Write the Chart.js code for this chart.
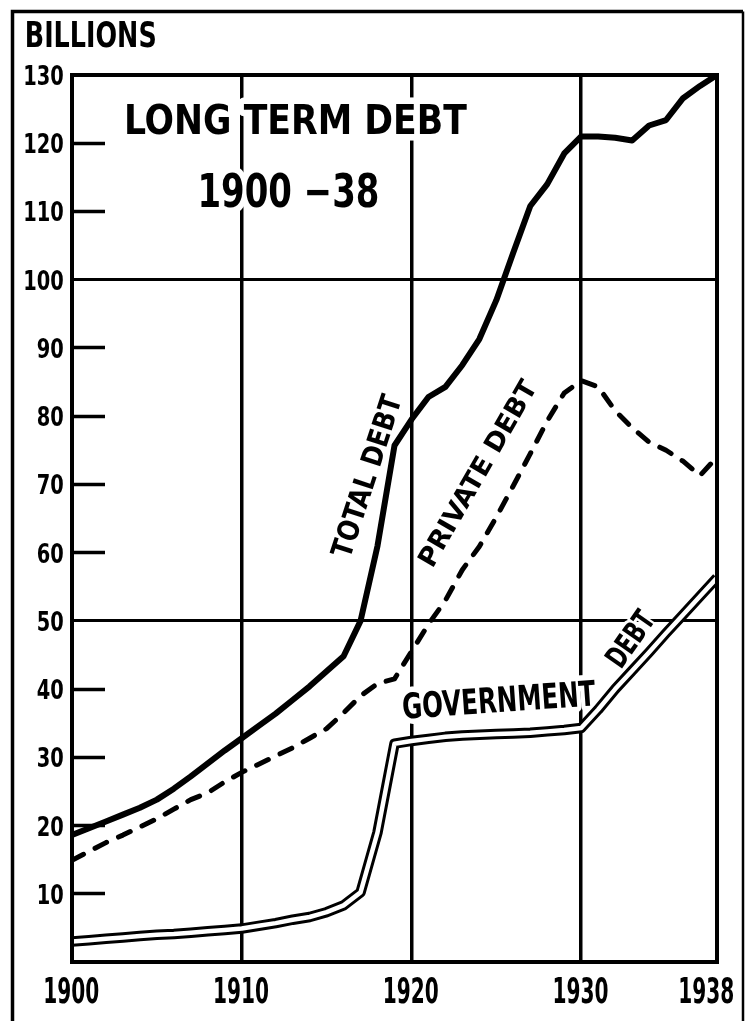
<!DOCTYPE html>
<html>
<head>
<meta charset="utf-8">
<title>Long Term Debt 1900-38</title>
<script src="https://cdn.jsdelivr.net/npm/chart.js@4.4.1/dist/chart.umd.min.js"></script>
<style>
  html, body { margin: 0; padding: 0; background: #fff; }
  #wrap { position: relative; width: 746px; height: 1021px; }
  canvas { display: block; }
</style>
</head>
<body>
<div id="wrap"><canvas id="debtChart" width="746" height="1021"></canvas></div>
<script>
/* --- Dati (miliardi di dollari) --- */
const years = [1900, 1901, 1902, 1903, 1904, 1905, 1906, 1907, 1908, 1909,
               1910, 1911, 1912, 1913, 1914, 1915, 1916, 1917, 1918, 1919,
               1920, 1921, 1922, 1923, 1924, 1925, 1926, 1927, 1928, 1929,
               1930, 1931, 1932, 1933, 1934, 1935, 1936, 1937, 1938];

const totalDebt = [18.6, 19.6, 20.6, 21.6, 22.6, 23.8, 25.4, 27.2, 29.1, 31.0,
                   32.8, 34.6, 36.4, 38.4, 40.4, 42.6, 44.8, 50.0, 61.0, 75.7,
                   79.5, 82.8, 84.3, 87.5, 91.3, 97.0, 104.0, 110.8, 114.0, 118.5,
                   121.0, 121.0, 120.8, 120.4, 122.6, 123.4, 126.6, 128.4, 130.0];

const privateDebt = [14.9, 16.2, 17.5, 18.6, 19.8, 21.0, 22.4, 23.8, 24.8, 26.4,
                     27.8, 29.0, 30.2, 31.4, 32.8, 34.2, 36.5, 39.0, 40.8, 41.5,
                     45.5, 49.5, 53.0, 57.5, 60.9, 65.2, 69.8, 74.5, 79.3, 83.4,
                     85.2, 84.3, 80.8, 78.3, 76.2, 75.0, 73.4, 71.3, 74.0];

const governmentDebt = [3.0, 3.2, 3.4, 3.6, 3.8, 4.0, 4.1, 4.3, 4.5, 4.7,
                        4.9, 5.3, 5.7, 6.2, 6.6, 7.3, 8.3, 10.2, 19.0, 32.0,
                        32.4, 32.7, 33.0, 33.2, 33.3, 33.4, 33.5, 33.6, 33.8, 34.0,
                        34.3, 37.0, 40.0, 42.7, 45.4, 48.2, 50.9, 53.6, 56.3];

const xTickYears = [1900, 1910, 1920, 1930, 1938];
const xGridYears = [1910, 1920, 1930];
const yGridValues = [50, 100];
const yNoStub = [0, 50, 100, 130];

/* --- Scritte a mano --- */
const LETTER_FONT = "'DejaVu Sans Condensed', 'DejaVu Sans', sans-serif";

const handLabels = [
    { text: 'BILLIONS',       cx: 91,  cy: 34.5, w: 128, h: 27, rot: 0,   halo: 0 },
    { text: 'LONG TERM DEBT', cx: 297, cy: 119,  w: 341, h: 32, rot: 0,   halo: 14 },
    { text: '1900 \u221238',  cx: 289, cy: 190,  w: 177, h: 35, rot: 0,   halo: 14 },
    { text: 'TOTAL DEBT',     cx: 366, cy: 476,  w: 169, h: 21, rot: -72, halo: 6 },
    { text: 'PRIVATE DEBT',   cx: 477, cy: 472,  w: 208, h: 20, rot: -60, halo: 6 },
    { text: 'GOVERNMENT',     cx: 499, cy: 699,  w: 193, h: 28, rot: -4,  halo: 12 },
    { text: 'DEBT',           cx: 630, cy: 638,  w: 60,  h: 22, rot: -55, halo: 6 }
];

function drawFitted(ctx, lbl) {
    ctx.save();
    ctx.translate(lbl.cx, lbl.cy);
    ctx.rotate(lbl.rot * Math.PI / 180);
    ctx.font = `bold ${lbl.h / 0.72}px ${LETTER_FONT}`;
    ctx.textAlign = 'center';
    ctx.textBaseline = 'alphabetic';
    const m = ctx.measureText(lbl.text);
    const w = m.actualBoundingBoxLeft + m.actualBoundingBoxRight;
    const hh = m.actualBoundingBoxAscent + m.actualBoundingBoxDescent;
    ctx.scale(lbl.w / w, lbl.h / hh);
    const x = (m.actualBoundingBoxLeft - m.actualBoundingBoxRight) / 2;
    const y = (m.actualBoundingBoxAscent - m.actualBoundingBoxDescent) / 2;
    if (lbl.halo) {
        ctx.lineWidth = lbl.halo;
        ctx.lineJoin = 'round';
        ctx.strokeStyle = '#fff';
        ctx.strokeText(lbl.text, x, y);
    }
    ctx.fillStyle = '#000';
    ctx.fillText(lbl.text, x, y);
    ctx.restore();
}

/* etichetta di tacca stretta: ancorata a (x, cy), allineata a destra o centrata */
function drawTickLabel(ctx, text, x, cy, size, sx, align, maxRight) {
    ctx.save();
    ctx.font = `bold ${size}px ${LETTER_FONT}`;
    ctx.textAlign = 'left';
    ctx.textBaseline = 'alphabetic';
    const m = ctx.measureText(text);
    const w = (m.actualBoundingBoxLeft + m.actualBoundingBoxRight) * sx;
    let left = align === 'right' ? x - w : x - w / 2;
    if (maxRight !== undefined && left + w > maxRight) left = maxRight - w;
    const y = cy + (m.actualBoundingBoxAscent - m.actualBoundingBoxDescent) / 2;
    ctx.translate(left, y);
    ctx.scale(sx, 1);
    ctx.fillStyle = '#000';
    ctx.fillText(text, m.actualBoundingBoxLeft, 0);
    ctx.restore();
}

/* cornice esterna + riquadro del grafico + scritte */
const framePlugin = {
    id: 'frame',
    beforeDraw(chart) {
        const ctx = chart.ctx;
        ctx.save();
        ctx.fillStyle = '#fff';
        ctx.fillRect(0, 0, chart.width, chart.height);
        ctx.strokeStyle = '#000';
        ctx.lineWidth = 3.5;
        ctx.beginPath();
        ctx.moveTo(12.5, chart.height);
        ctx.lineTo(12.5, 11.5);
        ctx.lineTo(743, 11.5);
        ctx.stroke();
        ctx.lineWidth = 2.5;
        ctx.beginPath();
        ctx.moveTo(743, 11.5);
        ctx.lineTo(743, chart.height);
        ctx.stroke();
        ctx.restore();
    },
    beforeDatasetsDraw(chart) {
        const ctx = chart.ctx;
        handLabels.forEach(lbl => drawFitted(ctx, lbl));

        const xs = chart.scales.x;
        const ys = chart.scales.y;
        ys.ticks.forEach(t => {
            if (t.value === 0) return;
            drawTickLabel(ctx, String(t.value), ys.right - 9, ys.getPixelForValue(t.value), 27, 0.8, 'right');
        });
        xs.ticks.forEach(t => {
            drawTickLabel(ctx, String(t.value), xs.getPixelForValue(t.value), xs.top + 28, 35, 0.64, 'center', 733);
        });
    },
    afterDatasetsDraw(chart) {
        const { ctx, chartArea: a } = chart;
        ctx.save();
        ctx.strokeStyle = '#000';
        ctx.lineWidth = 4;
        ctx.lineJoin = 'miter';
        ctx.strokeRect(a.left, a.top, a.right - a.left, a.bottom - a.top);
        ctx.restore();
    }
};

const toPoints = values => years.map((yr, i) => ({ x: yr, y: values[i] }));

const ctx = document.getElementById('debtChart').getContext('2d');
new Chart(ctx, {
    type: 'line',
    data: {
        datasets: [
            {
                label: 'Total Debt',
                data: toPoints(totalDebt),
                borderColor: '#000',
                borderWidth: 6,
                borderCapStyle: 'round',
                borderJoinStyle: 'round',
                pointRadius: 0,
                tension: 0,
                order: 0
            },
            {
                label: 'Private Debt',
                data: toPoints(privateDebt),
                borderColor: '#000',
                borderWidth: 5,
                borderDash: [13, 13],
                borderCapStyle: 'round',
                borderJoinStyle: 'round',
                pointRadius: 0,
                tension: 0,
                order: 0
            },
            {
                label: 'Government Debt (inner)',
                data: toPoints(governmentDebt),
                borderColor: '#fff',
                borderWidth: 4.5,
                borderJoinStyle: 'round',
                pointRadius: 0,
                tension: 0,
                order: 1
            },
            {
                label: 'Government Debt',
                data: toPoints(governmentDebt),
                borderColor: '#000',
                borderWidth: 10.5,
                borderJoinStyle: 'round',
                pointRadius: 0,
                tension: 0,
                order: 2
            }
        ]
    },
    options: {
        responsive: false,
        animation: false,
        events: [],
        layout: { padding: { left: 0, top: 75, right: 29, bottom: 0 } },
        plugins: {
            legend: { display: false },
            tooltip: { enabled: false }
        },
        scales: {
            x: {
                type: 'linear',
                min: 1900,
                max: 1938,
                afterFit: scale => {
                    scale.height = 59;
                    scale.paddingLeft = 0;
                    scale.paddingRight = 0;
                },
                afterBuildTicks: scale => { scale.ticks = xTickYears.map(v => ({ value: v })); },
                border: { display: false },
                grid: {
                    drawTicks: false,
                    lineWidth: 3.5,
                    color: c => (c.tick && xGridYears.includes(c.tick.value)) ? '#000' : 'rgba(0,0,0,0)'
                },
                ticks: { display: false, autoSkip: false }
            },
            y: {
                min: 0,
                max: 130,
                afterFit: scale => {
                    scale.width = 72;
                    scale.paddingTop = 0;
                    scale.paddingBottom = 0;
                },
                border: { display: false },
                grid: {
                    drawTicks: true,
                    tickLength: -33,
                    tickWidth: 3.5,
                    lineWidth: 3,
                    color: c => (c.tick && yGridValues.includes(c.tick.value)) ? '#000' : 'rgba(0,0,0,0)',
                    tickColor: c => (c.tick && !yNoStub.includes(c.tick.value)) ? '#000' : 'rgba(0,0,0,0)'
                },
                ticks: { display: false, stepSize: 10, autoSkip: false }
            }
        }
    },
    plugins: [framePlugin]
});
</script>
</body>
</html>
